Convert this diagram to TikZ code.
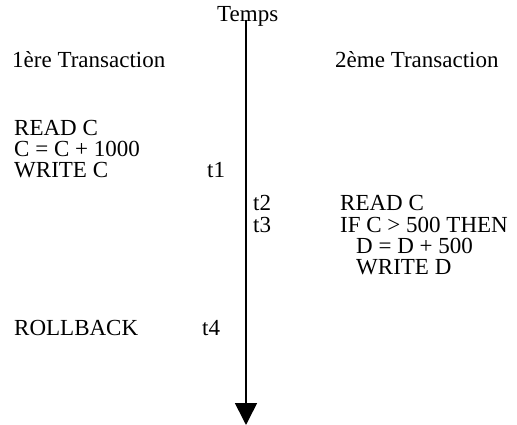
\documentclass[tikz,border=0pt]{standalone}
\usepackage{fontspec}
\setmainfont{Liberation Serif}
\usetikzlibrary{arrows.meta}
\begin{document}
\begin{tikzpicture}[x=1pt,y=-1pt,
  txt/.style={anchor=base west,inner sep=0pt,font=\fontsize{23}{27}\selectfont},
  axis/.style={line width=1.6pt,-{Triangle[width=22pt,length=22pt]}}]
\useasboundingbox (0,0) rectangle (517,425);
\node[txt] (temps) at (217,22) {Temps};
\node[txt] (h1) at (12,68) {1ère Transaction};
\node[txt] (h2) at (335,68) {2ème Transaction};
\node[txt] (a1) at (14,136) {READ C};
\node[txt] (a2) at (14,157) {C = C + 1000};
\node[txt] (a3) at (14,178) {WRITE C};
\node[txt] (t1) at (207,178) {t1};
\node[txt] (t2) at (253,211) {t2};
\node[txt] (t3) at (253,232) {t3};
\node[txt] (b1) at (340,211) {READ C};
\node[txt] (b2) at (340,232) {IF C > 500 THEN};
\node[txt] (b3) at (356,253) {D = D + 500};
\node[txt] (b4) at (356,274) {WRITE D};
\node[txt] (rb) at (14,335) {ROLLBACK};
\node[txt] (t4) at (202,335) {t4};
\coordinate (top) at (246,20);
\coordinate (bot) at (246,425);
\draw[axis] (top) -- (bot);
\end{tikzpicture}
\end{document}
